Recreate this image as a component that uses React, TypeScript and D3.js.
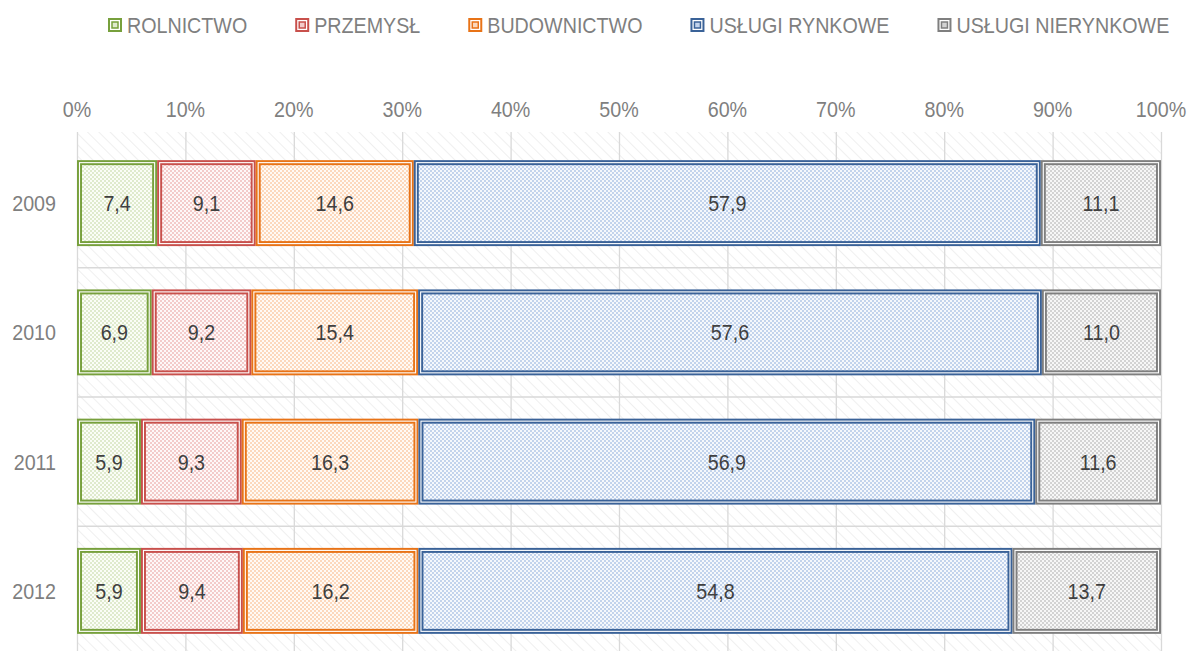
import React, { useEffect, useRef } from 'react';
import * as d3 from 'd3';

const years = ['2009', '2010', '2011', '2012'];
const seriesNames = ['ROLNICTWO', 'PRZEMYSŁ', 'BUDOWNICTWO', 'USŁUGI RYNKOWE', 'USŁUGI NIERYNKOWE'];
const rolnictwo = [7.4, 6.9, 5.9, 5.9];
const przemysl = [9.1, 9.2, 9.3, 9.4];
const budownictwo = [14.6, 15.4, 16.3, 16.2];
const uslugiRynkowe = [57.9, 57.6, 56.9, 54.8];
const uslugiNierynkowe = [11.1, 11.0, 11.6, 13.7];
const tickValues = [0, 0.1, 0.2, 0.3, 0.4, 0.5, 0.6, 0.7, 0.8, 0.9, 1.0];

const strokeColors = ['#77a03c', '#c8504c', '#e87317', '#3a6298', '#7f7f7f'];
const dotColors = ['#dfeacd', '#f3cbca', '#fcd8bc', '#c2d3ec', '#d3d3d3'];
const baseColors = ['#fbfdf7', '#fef8f8', '#fffaf5', '#f5f8fc', '#f7f7f7'];

const W = 1189;
const H = 651;
const FONT = '"Liberation Sans", Arial, sans-serif';
const FS = 22.5;
const SX = 0.875;

export default function App() {
  const ref = useRef<SVGSVGElement | null>(null);

  useEffect(() => {
    document.body.style.margin = '0';
    const svg = d3.select(ref.current);
    svg.selectAll('*').remove();

    const addText = (parent: any, px: number, py: number, txt: string, anchor: string, color: string) => {
      const gg = parent.append('g').attr('transform', `translate(${px},${py}) scale(${SX},1)`);
      const t = gg.append('text').attr('x', 0).attr('y', 0).attr('text-anchor', anchor)
        .attr('font-family', FONT).attr('font-size', FS).attr('fill', color).text(txt);
      return (t.node() as SVGTextElement).getComputedTextLength() * SX;
    };

    const series = [rolnictwo, przemysl, budownictwo, uslugiRynkowe, uslugiNierynkowe];
    const rows = years.map((yr, i) => {
      const vals = series.map((s) => s[i]);
      const total = d3.sum(vals);
      let acc = 0;
      return vals.map((v, k) => {
        const seg = { year: yr, k, v, x0: acc / total, x1: (acc + v) / total };
        acc += v;
        return seg;
      });
    });

    const x = d3.scaleLinear().domain([0, 1]).range([77, 1161]);
    const y = d3.scaleBand<string>().domain(years).range([138.5, 655.5]).paddingInner(0.335).paddingOuter(0.1675);
    const step = y.step();

    const defs = svg.append('defs');
    const hatch = defs.append('pattern').attr('id', 'hatch').attr('patternUnits', 'userSpaceOnUse')
      .attr('width', 8).attr('height', 8).attr('patternTransform', 'rotate(-45)');
    hatch.append('rect').attr('width', 8).attr('height', 8).attr('fill', '#ffffff');
    hatch.append('line').attr('x1', 0).attr('y1', 0).attr('x2', 0).attr('y2', 8)
      .attr('stroke', '#eeeeee').attr('stroke-width', 1.8);

    strokeColors.forEach((c, k) => {
      const p = defs.append('pattern').attr('id', `fill${k}`).attr('patternUnits', 'userSpaceOnUse')
        .attr('width', 4).attr('height', 4);
      p.append('rect').attr('width', 4).attr('height', 4).attr('fill', baseColors[k]);
      p.append('rect').attr('width', 2).attr('height', 2).attr('fill', dotColors[k]);
      p.append('rect').attr('x', 2).attr('y', 2).attr('width', 2).attr('height', 2).attr('fill', dotColors[k]);
    });

    const plotTop = 132;
    svg.append('rect').attr('x', x(0)).attr('y', plotTop).attr('width', x(1) - x(0)).attr('height', H - plotTop)
      .attr('fill', 'url(#hatch)');

    svg.append('g').selectAll('line').data(tickValues).join('line')
      .attr('x1', (d) => x(d) + 0.5).attr('x2', (d) => x(d) + 0.5)
      .attr('y1', plotTop).attr('y2', H)
      .attr('stroke', '#d9d9d9').attr('stroke-width', 1.3);

    svg.append('g').selectAll('line').data(years.slice(1)).join('line')
      .attr('x1', x(0)).attr('x2', x(1))
      .attr('y1', (d) => (y(d) as number) - (step - y.bandwidth()) / 2)
      .attr('y2', (d) => (y(d) as number) - (step - y.bandwidth()) / 2)
      .attr('stroke', '#d9d9d9').attr('stroke-width', 1.3);

    const tl = svg.append('g');
    tickValues.forEach((d) => addText(tl, x(d), 117, `${Math.round(d * 100)}%`, 'middle', '#7f7f7f'));

    const yl = svg.append('g');
    years.forEach((d) => addText(yl, 56, (y(d) as number) + y.bandwidth() / 2 + 8, d, 'end', '#7f7f7f'));

    const segs = rows.flat();
    const g = svg.append('g');
    const inset = 2.5;
    g.selectAll('rect.seg').data(segs).join('rect').attr('class', 'seg')
      .attr('x', (d) => x(d.x0) + inset).attr('y', (d) => (y(d.year) as number) + inset)
      .attr('width', (d) => x(d.x1) - x(d.x0) - 2 * inset).attr('height', y.bandwidth() - 2 * inset)
      .attr('fill', (d) => `url(#fill${d.k})`).attr('stroke', (d) => strokeColors[d.k]).attr('stroke-width', 5);
    g.selectAll('rect.gap').data(segs).join('rect').attr('class', 'gap')
      .attr('x', (d) => x(d.x0) + inset).attr('y', (d) => (y(d.year) as number) + inset)
      .attr('width', (d) => x(d.x1) - x(d.x0) - 2 * inset).attr('height', y.bandwidth() - 2 * inset)
      .attr('fill', 'none').attr('stroke', '#ffffff').attr('stroke-width', 1.1);

    const dl = svg.append('g');
    segs.forEach((d) => addText(dl, (x(d.x0) + x(d.x1)) / 2, (y(d.year) as number) + y.bandwidth() / 2 + 8,
      d.v.toFixed(1).replace('.', ','), 'middle', '#404040'));

    const lg = svg.append('g');
    let lx = 108;
    const sq = 14;
    const ly = 18;
    seriesNames.forEach((name, k) => {
      const item = lg.append('g');
      item.append('rect').attr('x', lx + 1).attr('y', ly + 1).attr('width', sq - 2).attr('height', sq - 2)
        .attr('fill', '#ffffff').attr('stroke', strokeColors[k]).attr('stroke-width', 2);
      item.append('rect').attr('x', lx + 4).attr('y', ly + 4).attr('width', sq - 8).attr('height', sq - 8)
        .attr('fill', dotColors[k]).attr('stroke', strokeColors[k]).attr('stroke-width', 1.5);
      const tw = addText(item, lx + sq + 5, ly + 15, name, 'start', '#7f7f7f');
      lx = lx + sq + 5 + tw + 48;
    });
  }, []);

  return (
    <svg ref={ref} width={W} height={H} style={{ position: 'absolute', left: 0, top: 0, background: '#ffffff' }} />
  );
}
